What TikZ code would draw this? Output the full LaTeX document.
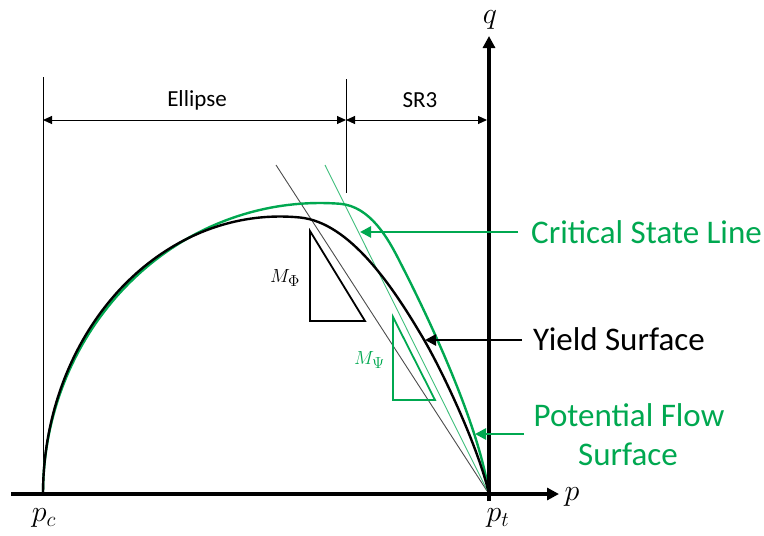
\RequirePackage{fix-cm}
\documentclass[tikz,border=0pt]{standalone}
\usepackage{fontspec}
\setmainfont{Carlito}
\usetikzlibrary{arrows.meta}
\definecolor{pgreen}{RGB}{0,168,80}
\newcommand{\slopesub}[1]{\mbox{\fontsize{16}{18}\selectfont$#1$}}
\begin{document}
\begin{tikzpicture}[x=1pt,y=1pt,yscale=-1,
  axis/.style={line width=4pt, -{Triangle[length=12pt,width=12pt]}},
  thinline/.style={line width=0.9pt},
  curve/.style={line width=2.4pt},
  callout/.style={line width=2.6pt, -{Triangle[length=11pt,width=11pt]}},
  dimarrow/.style={line width=1pt, {Triangle[length=9pt,width=8pt]}-{Triangle[length=9pt,width=8pt]}},
  tri/.style={line width=1.8pt},
  lbl/.style={font=\fontsize{33}{38}\selectfont, inner sep=0pt},
  dimlbl/.style={font=\fontsize{23}{27}\selectfont, inner sep=0pt},
  mathlbl/.style={font=\fontsize{30}{36}\selectfont, inner sep=0pt},
  slopelbl/.style={font=\fontsize{19}{23}\selectfont, inner sep=0pt}]
\useasboundingbox (0,0) rectangle (764,536);

% key points
\coordinate (pc) at (43,494);
\coordinate (pt) at (489,494);
\coordinate (pstart) at (11,494);
\coordinate (pend) at (559,494);
\coordinate (qstart) at (489,501);
\coordinate (qend) at (489,36);

% dimension lines
\coordinate (vlTop) at (43,77);
\coordinate (vmTop) at (346,79);
\coordinate (vmBot) at (346,193);
\coordinate (dl) at (43,120);
\coordinate (dm) at (346,120);
\coordinate (dr) at (487,120);
\draw[thinline] (vlTop) -- (pc);
\draw[thinline] (vmTop) -- (vmBot);
\draw[dimarrow] (dl) -- (dm);
\draw[dimarrow] (dm) -- (dr);
\node[dimlbl] (ellipselbl) at (197,100) {Ellipse};
\node[dimlbl] (sr3lbl) at (420,100) {SR3};

% slope lines
\coordinate (phiTop) at (276,165);
\coordinate (cslTop) at (325,165);
\draw[thinline, black!70] (phiTop) -- (pt);
\draw[thinline, pgreen!75] (cslTop) -- (pt);

% potential flow surface (green)
\draw[curve, pgreen] plot[domain=180:274.14, samples=80] ({320+277*cos(\x)},{494+291*sin(\x)})
  .. controls (370,206.3) and (388,238) .. (400,262)
  .. controls (435,330) and (480,430) .. (pt);

% yield surface (black)
\draw[curve] plot[domain=180:274.84, samples=80] ({280+237*cos(\x)},{494+277.5*sin(\x)})
  .. controls (350,222.5) and (393,287) .. (423,338)
  .. controls (443,372) and (479,449) .. (pt);

% slope triangles
\draw[tri] (310,231) -- (310,321) -- (365,321) -- cycle;
\draw[tri, pgreen] (393,317) -- (393,400) -- (435,400) -- cycle;
\node[slopelbl, anchor=base west] (mphi) at (270,282) {$M_{\slopesub{\Phi}}$};
\node[slopelbl, text=pgreen, anchor=base west] (mpsi) at (354,364) {$M_{\slopesub{\Psi}}$};

% axes
\draw[axis] (pstart) -- (pend);
\draw[axis] (qstart) -- (qend);
\node[mathlbl] (plabel) at (572,497) {$p$};
\node[mathlbl] (qlabel) at (490,20) {$q$};
\node[mathlbl] (pclabel) at (44,518) {$p_c$};
\node[mathlbl] (ptlabel) at (498,518) {$p_t$};

% callouts
\node[lbl, text=pgreen, anchor=base west] (csl) at (531,243.5) {Critical State Line};
\node[lbl, anchor=base west] (ys) at (533,350.7) {Yield Surface};
\node[lbl, text=pgreen, anchor=base] (pfs1) at (629,426.7) {Potential Flow};
\node[lbl, text=pgreen, anchor=base] (pfs2) at (628,465) {Surface};
\coordinate (cslFrom) at (518,232);
\coordinate (cslHit) at (360,232);
\coordinate (ysFrom) at (522,340);
\coordinate (ysHit) at (425,340);
\coordinate (pfsFrom) at (524,434);
\coordinate (pfsHit) at (475,434);
\draw[callout, pgreen] (cslFrom) -- (cslHit);
\draw[callout] (ysFrom) -- (ysHit);
\draw[callout, pgreen] (pfsFrom) -- (pfsHit);
\end{tikzpicture}
\end{document}
